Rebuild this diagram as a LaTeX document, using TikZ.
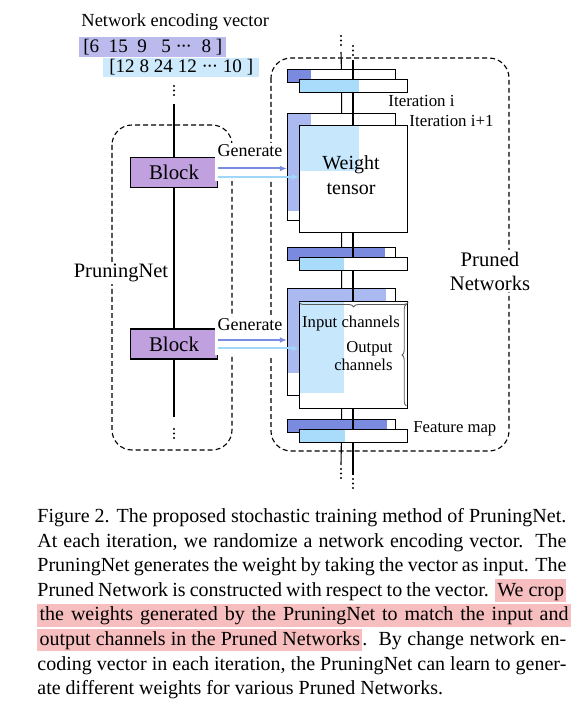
\documentclass[tikz,border=0pt]{standalone}
\usepackage{fontspec}
\setmainfont{Liberation Serif}
\usetikzlibrary{arrows.meta, decorations.pathreplacing, positioning}

\definecolor{blockfill}{RGB}{192,160,222}
\definecolor{iterdark}{RGB}{122,138,222}
\definecolor{iterlav}{RGB}{170,186,240}
\definecolor{iterlight}{RGB}{168,220,250}
\definecolor{iterpale}{RGB}{198,231,252}
\definecolor{vecdark}{RGB}{186,186,236}
\definecolor{veclight}{RGB}{204,234,252}
\definecolor{arrdark}{RGB}{122,140,226}
\definecolor{arrlight}{RGB}{160,214,250}
\definecolor{hlpink}{RGB}{246,190,190}

\newcommand{\hlbox}[1]{{\setlength{\fboxsep}{0pt}\colorbox{hlpink}{\rule[-2.6pt]{0pt}{10.2pt}\kern1pt#1\kern1pt}}}
\newcommand{\capline}[1]{\makebox[238pt][s]{#1}}
\newcommand{\middots}{·\kern-0.6pt·\kern-0.6pt·}

\begin{document}
\begin{tikzpicture}[x=0.45pt, y=-0.45pt,
    laybox/.style={draw, line width=0.55pt, fill=white, inner sep=0pt, minimum width=48.6pt},
    bar/.style={laybox, minimum height=5.85pt},
    tensor/.style={laybox, minimum height=48.15pt},
    fillpart/.style n args={3}{path picture={\fill[#1] (path picture bounding box.north west) rectangle ++(#2,#3);}},
    block/.style={draw, line width=0.55pt, fill=blockfill, minimum width=39pt, minimum height=13.5pt, inner sep=0pt, font=\fontsize{9.4}{11}\selectfont},
    vec/.style={inner sep=0pt, minimum height=8.7pt, font=\fontsize{8.6}{10}\selectfont},
    groupbox/.style={line width=0.5pt, dash pattern=on 2.2pt off 1.4pt, rounded corners=9pt},
    genlabel/.style={anchor=base, fill=white, inner sep=1pt, text depth=10pt, font=\fontsize{8.1}{10}\selectfont},
    genarrow/.style={line width=0.9pt, -{Latex[length=3.2pt, width=2.6pt]}},
    small/.style={font=\fontsize{7.5}{6.8}\selectfont, inner sep=0pt}
]
\useasboundingbox (0,0) rectangle (582,711);

% encoding vectors
\node[anchor=base west, inner sep=0pt, font=\fontsize{8.3}{10}\selectfont] (title) at (81,27) {Network encoding vector};
\node[vec, fill=vecdark, anchor=north west, minimum width=66pt] (vec1) at (79,37) {[6\ \ 15\ \ 9\ \ \ 5 \middots\ \ 8 ]};
\node[vec, fill=veclight, anchor=north west, minimum width=70pt] (vec2) at (103,57.5) {[12 8 24 12 \middots\ 10 ]};

% the two dashed groups
\draw[groupbox] (112,125) rectangle (232,450);
\draw[groupbox] (271,58) rectangle (509,451);

% PruningNet
\coordinate (pntop) at (174,104);
\coordinate (pnbot) at (174,417);
\foreach \k in {0,1,2} {
    \fill (174,86+\k*4.5) circle (0.55pt);
    \fill (174,429+\k*4.5) circle (0.55pt);
}
\node[block] (blk1) at (174,172.5) {Block};
\node[block] (blk2) at (174,344) {Block};
\draw[line width=0.5pt] (pntop) -- (blk1) -- (blk2) -- (pnbot);
\node[fill=white, inner sep=1pt, font=\fontsize{9.2}{11}\selectfont] (pnlabel) at (121,273) {PruningNet};

% iteration i
\node[bar, anchor=north west, fillpart={iterdark}{23}{13}] (fm1i) at (287,69) {};
\node[tensor, anchor=north west, fillpart={iterlav}{23}{97}] (w1i) at (287,113) {};
\node[bar, anchor=north west, fillpart={iterdark}{97}{13}] (fm2i) at (287,247) {};
\node[tensor, anchor=north west, fillpart={iterlav}{98}{84}] (w2i) at (287,288) {};
\node[bar, anchor=north west, fillpart={iterdark}{99}{13}] (fm3i) at (287,419) {};

\coordinate (ini) at (341,52);
\coordinate (outi) at (341,465);
\coordinate (inf) at (353,60);
\coordinate (outf) at (353,475);
\foreach \k in {0,1,2} {
    \fill (341,36+\k*4.5) circle (0.55pt);
    \fill (341,469+\k*4.5) circle (0.55pt);
    \fill (353,46+\k*4.5) circle (0.55pt);
    \fill (353,479+\k*4.5) circle (0.55pt);
}
\draw[line width=0.5pt] (ini) -- (fm1i) -- (w1i) -- (fm2i) -- (w2i) -- (fm3i) -- (outi);
\draw[line width=0.5pt] (inf) -- (353,79) (353,91) -- (353,125) (353,233) -- (353,257) (353,269) -- (353,301) (353,408) -- (353,429) (353,442) -- (outf);

% iteration i+1
\node[bar, anchor=north west, fillpart={iterlight}{59}{13}] (fm1f) at (299,79) {};
\node[tensor, anchor=north west, fillpart={iterpale}{59}{45}] (w1f) at (299,125) {};
\node[bar, anchor=north west, fillpart={iterlight}{44}{13}] (fm2f) at (299,257) {};
\node[tensor, anchor=north west, fillpart={iterpale}{44}{91}] (w2f) at (299,301) {};
\node[bar, anchor=north west, fillpart={iterlight}{45}{13}] (fm3f) at (299,429) {};

\draw[gray!70!black, line width=0.4pt, decorate, decoration={brace, amplitude=2pt}]
    ([yshift=-0.6pt]w2f.north east) -- ([yshift=-0.6pt]w2f.north west);
\draw[gray!70!black, line width=0.4pt, decorate, decoration={brace, amplitude=2pt}]
    ([xshift=-0.8pt, yshift=1.5pt]w2f.south east) -- ([xshift=-0.8pt, yshift=-1.5pt]w2f.north east);

% labels
\node[anchor=west, inner sep=0pt, font=\fontsize{7.6}{9}\selectfont] (iti) at (388,101) {Iteration i};
\node[anchor=west, inner sep=0pt, font=\fontsize{7.6}{9}\selectfont] (itj) at (409,121) {Iteration i+1};
\node[anchor=west, inner sep=0pt, font=\fontsize{7.5}{9}\selectfont] (fmap) at (413,429) {Feature map};
\node[align=center, inner sep=0pt, font=\fontsize{9}{11.25}\selectfont] (wlabel) at (351,175) {Weight\\tensor};
\node[small] (inch) at (351,323) {Input channels};
\node[small, align=right, anchor=east] (outch) at (393,356) {Output\\channels};
\node[align=center, fill=white, inner sep=1pt, font=\fontsize{9.3}{10.8}\selectfont] (pruned) at (490,271) {Pruned\\Networks};

% generate arrows
\node[genlabel] (gen1) at (250,157) {Generate};
\node[genlabel] (gen2) at (250,331) {Generate};
\coordinate (g1a) at ([yshift=1.8pt]blk1.east);
\coordinate (g1b) at ([yshift=-2pt]blk1.east);
\coordinate (g2a) at ([yshift=1.8pt]blk2.east);
\coordinate (g2b) at ([yshift=-2pt]blk2.east);
\draw[genarrow, arrdark] (g1a) -- (g1a -| w1i.west);
\draw[genarrow, arrlight] (g1b) -- (g1b -| w1f.west);
\draw[genarrow, arrdark] (g2a) -- (g2a -| w2i.west);
\draw[genarrow, arrlight] (g2b) -- (g2b -| w2f.west);

% caption
\node[anchor=north west, inner sep=0pt, align=left, font=\fontsize{9}{11.07}\selectfont] (caption) at (37,508) {%
\capline{Figure 2. The proposed stochastic training method of PruningNet.}\\
\capline{At each iteration, we randomize a network encoding vector.\ \ The}\\
\capline{PruningNet generates the weight by taking the vector as input. The}\\
\capline{Pruned Network is constructed with respect to the vector. \hlbox{We crop}}\\
\hlbox{\capline{the weights generated by the PruningNet to match the input and}}\\
\capline{\hlbox{output channels in the Pruned Networks}.\ \ By change network en-}\\
\capline{coding vector in each iteration, the PruningNet can learn to gener-}\\
ate different weights for various Pruned Networks.};
\end{tikzpicture}
\end{document}
